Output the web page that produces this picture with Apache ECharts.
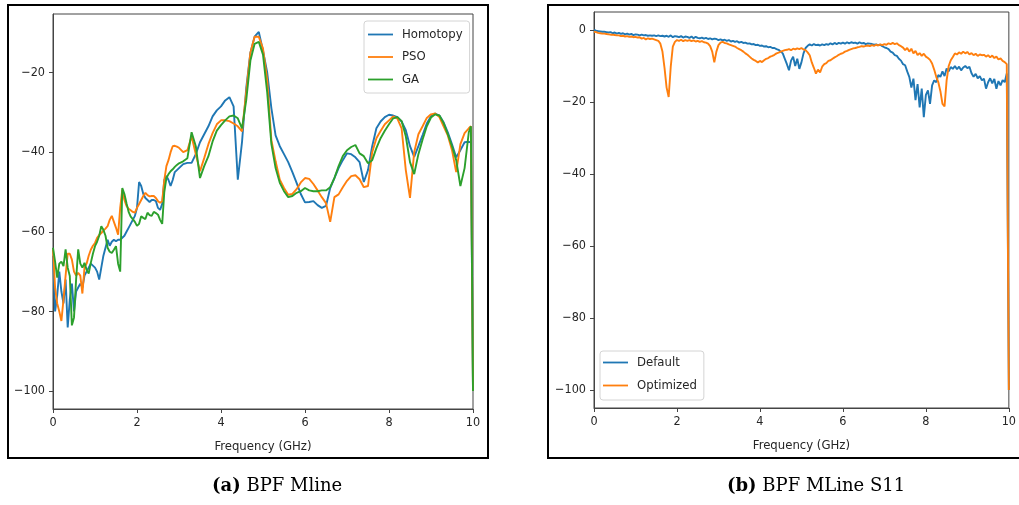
<!DOCTYPE html>
<html>
<head>
<meta charset="utf-8">
<script src="https://cdn.jsdelivr.net/npm/echarts@6/dist/echarts.min.js"></script>
<style>
html,body{margin:0;padding:0;background:#fff;}
#c{width:1019px;height:505px;}
</style>
</head>
<body>
<div id="c"></div>
<script>
// ---------- Panel (a): BPF Mline ----------
const freqA = [0,0.05,0.1,0.15,0.2,0.25,0.3,0.35,0.4,0.45,0.5,0.55,0.6,0.65,0.7,0.75,0.8,0.85,0.9,0.95,
1,1.05,1.1,1.15,1.2,1.25,1.3,1.35,1.4,1.45,1.5,1.55,1.6,1.65,1.7,1.75,1.8,1.85,1.9,1.95,
2,2.05,2.1,2.15,2.2,2.25,2.3,2.35,2.4,2.45,2.5,2.55,2.6,2.65,2.7,2.75,2.8,2.85,2.9,2.95,3,
3.1,3.2,3.3,3.4,3.5,3.6,3.7,3.8,3.9,4,4.1,4.2,4.3,4.4,4.5,4.6,4.7,4.8,4.9,5,
5.1,5.2,5.3,5.4,5.5,5.6,5.7,5.8,5.9,6,6.1,6.2,6.3,6.4,6.5,6.6,6.7,6.8,6.9,7,
7.1,7.2,7.3,7.4,7.5,7.6,7.7,7.8,7.9,8,8.1,8.2,8.3,8.4,8.5,8.6,8.7,8.8,8.9,9,
9.1,9.2,9.3,9.4,9.5,9.6,9.7,9.8,9.9,9.95,10];

const homotopy = [-66,-80,-76,-70,-75,-78,-72,-84,-77,-73,-80,-75,-74,-73,-74,-71,-70,-69,-68,-68.5,
-69,-70,-72,-69,-66,-64,-62,-63.5,-62.5,-62,-62.4,-62,-62,-61.5,-61,-60,-59,-58,-57,-56,
-54,-47.5,-48.5,-50.5,-51.5,-52,-52.5,-52,-52,-52.3,-54,-54.5,-53,-47,-46,-47,-48.5,-47,-45,-44.5,-44,
-43,-42.7,-42.7,-40.5,-37.5,-35.5,-33.5,-31,-29.5,-28.5,-27,-26.2,-28.5,-46.9,-37.5,-24,-15,-11,-9.8,-14.5,
-20,-29,-35.8,-38.5,-40.5,-42.5,-45,-47.7,-50.5,-52.6,-52.5,-52.3,-53.3,-54,-53.5,-49,-46.5,-44,-42,-40.3,
-40.5,-41.3,-42.5,-47.5,-44.5,-38.5,-34,-32.3,-31.2,-30.6,-30.8,-31.2,-32.3,-34.5,-38.5,-41.2,-38.5,-35.7,-32.8,-31,
-30.3,-30.8,-32.5,-35,-38,-41.3,-39.5,-37.5,-37.4,-37.5,-100];

const pso = [-64.4,-74,-78,-80,-82.4,-77,-71,-65.5,-65.5,-67,-70,-71,-70.3,-71,-75.5,-69,-68,-66,-64.5,-63.5,
-62.8,-61.5,-60.8,-60.3,-59.7,-59.2,-58.6,-57,-56,-57.5,-59,-60.7,-54,-49.4,-52,-53.5,-54.2,-54.6,-55,-55.2,
-54,-53,-52,-51,-50.2,-50.8,-51.1,-51,-51,-51.5,-52.3,-52.7,-52.3,-47,-43.5,-42,-40,-38.5,-38.4,-38.6,-38.9,
-40,-39.5,-36,-40.5,-44.8,-41.5,-38,-35.2,-33,-32,-32,-32.2,-32.8,-33.5,-34.8,-25,-15,-11,-11,-14,
-22,-37,-42.3,-46.9,-49,-50.7,-50.5,-49.3,-47.6,-46.5,-46.7,-48,-49.6,-51.3,-52.8,-57.5,-51.3,-50.6,-48.8,-47.2,
-46,-45.8,-46.8,-48.8,-48.5,-40,-36.5,-34.7,-33,-32,-31,-31.6,-34,-44.5,-51.5,-40,-35.5,-33.5,-31.4,-30.5,
-30.3,-31.2,-33.5,-35.8,-39.5,-45,-38,-35.2,-34,-33.5,-100];

const ga = [-64,-67.5,-71.5,-68,-67.5,-68.6,-64.4,-69,-71.1,-83.5,-81.5,-72,-64.4,-68,-69,-67.8,-69.5,-70.5,-67.8,-65.5,
-63.6,-62.5,-61,-58.6,-59.5,-61,-64,-65,-65.3,-64.5,-63.6,-68,-70,-49,-50.5,-52.8,-55,-56.2,-56.8,-57.5,
-58.5,-58,-56.1,-56.5,-56.8,-55.2,-55.8,-56,-55,-55.3,-55.7,-57,-58,-50,-46.5,-45.5,-44.8,-44.3,-43.7,-43.2,-42.8,
-42.3,-41.5,-35,-38.5,-46.5,-43.5,-41,-37.3,-34.6,-33.2,-32,-31,-30.8,-31.5,-34,-27,-17,-12.8,-12.3,-15.5,
-25,-38,-44,-47.7,-49.8,-51.3,-51,-50.2,-49.8,-49,-49.6,-49.8,-49.8,-49.6,-49.6,-48.8,-46.5,-43.5,-41,-39.5,
-38.7,-38.2,-40.3,-41,-42.8,-42,-39,-36.5,-34.6,-33,-31.5,-31.2,-32.2,-36,-42.5,-45.5,-40.5,-36.8,-33.5,-31.3,
-30.5,-30.8,-32.7,-35.5,-38.5,-42,-48.5,-44,-35,-33.5,-100];

const yTicksA = [-100,-80,-60,-40,-20];
const xTicks = [0,2,4,6,8,10];

// ---------- Panel (b): BPF MLine S11 ----------
const freqB = [0,0.05,0.1,0.15,0.2,0.25,0.3,0.35,0.4,0.45,0.5,0.55,0.6,0.65,0.7,0.75,0.8,0.85,0.9,0.95,
1,1.05,1.1,1.15,1.2,1.25,1.3,1.35,1.4,1.45,1.5,1.55,1.6,1.65,1.7,1.75,1.8,1.85,1.9,1.95,
2,2.05,2.1,2.15,2.2,2.25,2.3,2.35,2.4,2.45,2.5,2.55,2.6,2.65,2.7,2.75,2.8,2.85,2.9,2.95,
3,3.05,3.1,3.15,3.2,3.25,3.3,3.35,3.4,3.45,3.5,3.55,3.6,3.65,3.7,3.75,3.8,3.85,3.9,3.95,
4,4.05,4.1,4.15,4.2,4.25,4.3,4.35,4.4,4.45,4.5,4.55,4.6,4.65,4.7,4.75,4.8,4.85,4.9,4.95,
5,5.05,5.1,5.15,5.2,5.25,5.3,5.35,5.4,5.45,5.5,5.55,5.6,5.65,5.7,5.75,5.8,5.85,5.9,5.95,
6,6.05,6.1,6.15,6.2,6.25,6.3,6.35,6.4,6.45,6.5,6.55,6.6,6.65,6.7,6.75,6.8,6.85,6.9,6.95,
7,7.05,7.1,7.15,7.2,7.25,7.3,7.35,7.4,7.45,7.5,7.55,7.6,7.65,7.7,7.75,7.8,7.85,7.9,7.95,
8,8.05,8.1,8.15,8.2,8.25,8.3,8.35,8.4,8.45,8.5,8.55,8.6,8.65,8.7,8.75,8.8,8.85,8.9,8.95,
9,9.05,9.1,9.15,9.2,9.25,9.3,9.35,9.4,9.45,9.5,9.55,9.6,9.65,9.7,9.75,9.8,9.85,9.9,9.95,10];

const defaultS11 = [0,-0.2,-0.3,-0.4,-0.5,-0.5,-0.6,-0.7,-0.6,-0.9,-0.7,-1.0,-0.8,-1.1,-0.9,-1.2,-1.0,-1.3,-1.1,-1.4,
-1.2,-1.3,-1.5,-1.3,-1.5,-1.4,-1.6,-1.5,-1.6,-1.5,-1.7,-1.5,-1.7,-1.6,-1.8,-1.6,-1.9,-1.5,-2.0,-1.7,
-1.8,-2.0,-1.7,-2.1,-1.8,-1.9,-2.2,-1.8,-2.3,-1.9,-2.2,-2.3,-2.1,-2.4,-2.2,-2.5,-2.3,-2.6,-2.4,-2.5,
-2.8,-2.6,-2.9,-2.7,-3.0,-2.8,-3.2,-3.0,-3.3,-3.1,-3.5,-3.3,-3.6,-3.5,-3.8,-3.7,-4.0,-3.9,-4.2,-4.1,
-4.4,-4.3,-4.6,-4.5,-4.8,-4.7,-5.0,-5.0,-5.3,-5.5,-6.0,-6.5,-8.0,-9.5,-11.2,-8.5,-7.4,-10.0,-8.0,-10.8,
-9.0,-6.5,-5.0,-4.4,-4.0,-4.3,-3.9,-4.2,-4.1,-4.3,-4.0,-4.2,-3.9,-4.1,-3.7,-4.0,-3.6,-3.9,-3.6,-3.8,
-3.5,-3.8,-3.4,-3.7,-3.4,-3.6,-3.5,-3.8,-3.4,-3.7,-3.6,-3.9,-3.7,-3.8,-3.9,-4.1,-4.0,-4.2,-4.1,-4.5,
-4.8,-5.0,-5.3,-6.0,-6.3,-7.0,-7.2,-8.0,-8.5,-9.5,-9.8,-11.5,-13.0,-16.0,-13.5,-19.5,-15.0,-21.5,-16.3,-24.2,
-18.0,-16.8,-20.5,-15.4,-14.0,-14.5,-12.5,-13.0,-11.5,-12.8,-10.7,-11.5,-10.3,-10.8,-10.0,-10.9,-10.2,-11.2,-10.4,-10.0,
-10.6,-10.2,-12.0,-13.0,-12.2,-13.4,-12.8,-14.0,-13.5,-16.3,-14.5,-13.4,-14.8,-13.6,-16.3,-14.2,-15.4,-13.9,-14.5,-12.1,
-100];

const optimizedS11 = [-0.5,-0.6,-0.8,-0.9,-1.0,-1.0,-1.1,-1.2,-1.3,-1.3,-1.4,-1.5,-1.5,-1.7,-1.6,-1.8,-1.7,-1.9,-1.8,-2.0,
-1.9,-2.1,-2.0,-2.4,-2.2,-2.6,-2.3,-2.5,-2.4,-2.6,-2.8,-3.0,-3.8,-6.0,-10.5,-16.0,-18.6,-10.2,-4.6,-3.3,
-2.8,-3.0,-2.7,-3.1,-2.8,-3.0,-2.8,-3.1,-2.9,-3.2,-3.0,-3.3,-3.1,-3.4,-3.5,-3.8,-4.5,-6.0,-9.0,-6.0,
-4.2,-3.5,-3.3,-3.6,-3.7,-4.0,-4.2,-4.4,-4.6,-5.0,-5.3,-5.6,-6.0,-6.5,-6.9,-7.4,-7.9,-8.3,-8.6,-9.0,
-8.6,-8.9,-8.4,-8.0,-7.8,-7.4,-7.2,-6.9,-6.5,-6.3,-6.0,-5.8,-5.6,-5.5,-5.3,-5.6,-5.2,-5.4,-5.1,-5.3,
-5.0,-5.4,-5.6,-6.2,-7.0,-9.0,-10.5,-12.1,-11.0,-11.8,-10.2,-9.5,-9.2,-8.6,-8.4,-8.0,-7.6,-7.3,-6.9,-6.6,
-6.4,-6.0,-5.8,-5.5,-5.3,-5.1,-5.0,-4.8,-4.7,-4.5,-4.6,-4.4,-4.3,-4.5,-4.2,-4.4,-4.1,-4.3,-4.0,-4.2,
-3.9,-4.1,-3.7,-3.9,-3.6,-3.9,-3.7,-4.2,-4.5,-4.9,-5.6,-5.0,-6.0,-5.2,-6.5,-5.8,-7.0,-6.4,-7.2,-6.6,
-7.4,-7.8,-8.3,-9.3,-11.0,-13.0,-14.5,-17.0,-20.5,-21.2,-14.0,-10.0,-8.4,-7.5,-6.5,-6.8,-6.2,-6.6,-6.0,-6.5,
-6.1,-6.8,-6.4,-7.0,-6.6,-7.2,-6.8,-7.0,-6.9,-7.4,-7.0,-7.6,-7.1,-7.8,-7.4,-8.2,-7.9,-8.6,-8.9,-9.5,
-100];

const yTicksB = [-100,-80,-60,-40,-20,0];
const namesA = ['Homotopy','PSO','GA'];
const namesB = ['Default','Optimized'];
const xName = 'Frequency (GHz)';
const captionA = ['(a)', 'BPF Mline'];
const captionB = ['(b)', 'BPF MLine S11'];

const C_BLUE = '#1f77b4', C_ORANGE = '#ff7f0e', C_GREEN = '#2ca02c';
const FONT = "'DejaVu Sans Condensed','DejaVu Sans',sans-serif";
const TXT = '#262626';
const SPINE = '#444';
const LEG_ICON = 'path://M0,0H25V1.8H0Z';

function pairs(xs, ys){ return xs.map((x,i)=>[x, ys[i]]); }
const fmt = v => (v < 0 ? '\u2212' + Math.abs(v) : String(v));

function xAxisCfg(gi){
  return {
    type:'value', gridIndex:gi, min:0, max:10,
    name:xName, nameLocation:'middle', nameGap:31,
    nameTextStyle:{fontFamily:FONT, fontSize:13, color:TXT},
    axisLine:{show:true, onZero:false, lineStyle:{color:SPINE, width:1}},
    axisTick:{show:true, length:4, lineStyle:{color:SPINE}, customValues:xTicks},
    axisLabel:{fontFamily:FONT, fontSize:12.5, color:TXT, margin:7, customValues:xTicks, formatter:fmt},
    splitLine:{show:false}
  };
}
function yAxisCfg(gi, mn, mx, ticks){
  return {
    type:'value', gridIndex:gi, min:mn, max:mx,
    axisLine:{show:true, onZero:false, lineStyle:{color:SPINE, width:1}},
    axisTick:{show:true, length:4, lineStyle:{color:SPINE}, customValues:ticks},
    axisLabel:{fontFamily:FONT, fontSize:12.5, color:TXT, margin:8, customValues:ticks, formatter:fmt},
    splitLine:{show:false}
  };
}
function lineSeries(name, xs, ys, color, gi){
  return {
    name:name, type:'line', xAxisIndex:gi, yAxisIndex:gi, data:pairs(xs, ys),
    symbol:'none', showSymbol:false, smooth:false,
    lineStyle:{color:color, width:1.9}, itemStyle:{color:color},
    emphasis:{disabled:true}, animation:false
  };
}
const legendBase = {
  orient:'vertical', itemWidth:25, itemHeight:14, icon:LEG_ICON,
  backgroundColor:'rgba(255,255,255,0.85)', borderColor:'#d4d4d4', borderWidth:1, borderRadius:3,
  textStyle:{fontFamily:FONT, fontSize:13, color:TXT, padding:[0,0,0,4]},
  selectedMode:false
};

const chart = echarts.init(document.getElementById('c'), null, {renderer:'canvas'});
chart.setOption({
  animation:false,
  backgroundColor:'#fff',
  grid:[
    {left:53, top:14, width:420, height:395, show:true, borderColor:SPINE, borderWidth:1, backgroundColor:'transparent'},
    {left:594, top:12, width:419, height:396, show:true, borderColor:SPINE, borderWidth:1, backgroundColor:'transparent'}
  ],
  xAxis:[xAxisCfg(0), xAxisCfg(1)],
  yAxis:[yAxisCfg(0, -104.5, -5.3, yTicksA), yAxisCfg(1, -105, 5, yTicksB)],
  legend:[
    Object.assign({}, legendBase, {left:364, top:21, padding:[7,7,7,4], itemGap:9.5, data:namesA}),
    Object.assign({}, legendBase, {left:600, top:351, padding:[5,7,8,3], itemGap:10, data:namesB})
  ],
  series:[
    lineSeries(namesA[0], freqA, homotopy, C_BLUE, 0),
    lineSeries(namesA[1], freqA, pso, C_ORANGE, 0),
    lineSeries(namesA[2], freqA, ga, C_GREEN, 0),
    lineSeries(namesB[0], freqB, defaultS11, C_BLUE, 1),
    lineSeries(namesB[1], freqB, optimizedS11, C_ORANGE, 1)
  ],
  graphic:[
    {type:'rect', shape:{x:8, y:5, width:480, height:453}, style:{fill:'none', stroke:'#000', lineWidth:2}, silent:true, z:100},
    {type:'rect', shape:{x:548, y:5, width:480, height:453}, style:{fill:'none', stroke:'#000', lineWidth:2}, silent:true, z:100},
    {type:'text', left:212, top:477, silent:true,
      style:{text:'{b|' + captionA[0] + '} ' + captionA[1], font:"18px 'DejaVu Serif',serif", fill:'#000',
        rich:{b:{fontWeight:'bold', fontFamily:"'DejaVu Serif',serif", fontSize:18}}}},
    {type:'text', left:727, top:477, silent:true,
      style:{text:'{b|' + captionB[0] + '} ' + captionB[1], font:"18px 'DejaVu Serif',serif", fill:'#000',
        rich:{b:{fontWeight:'bold', fontFamily:"'DejaVu Serif',serif", fontSize:18}}}}
  ]
});
</script>
</body>
</html>
